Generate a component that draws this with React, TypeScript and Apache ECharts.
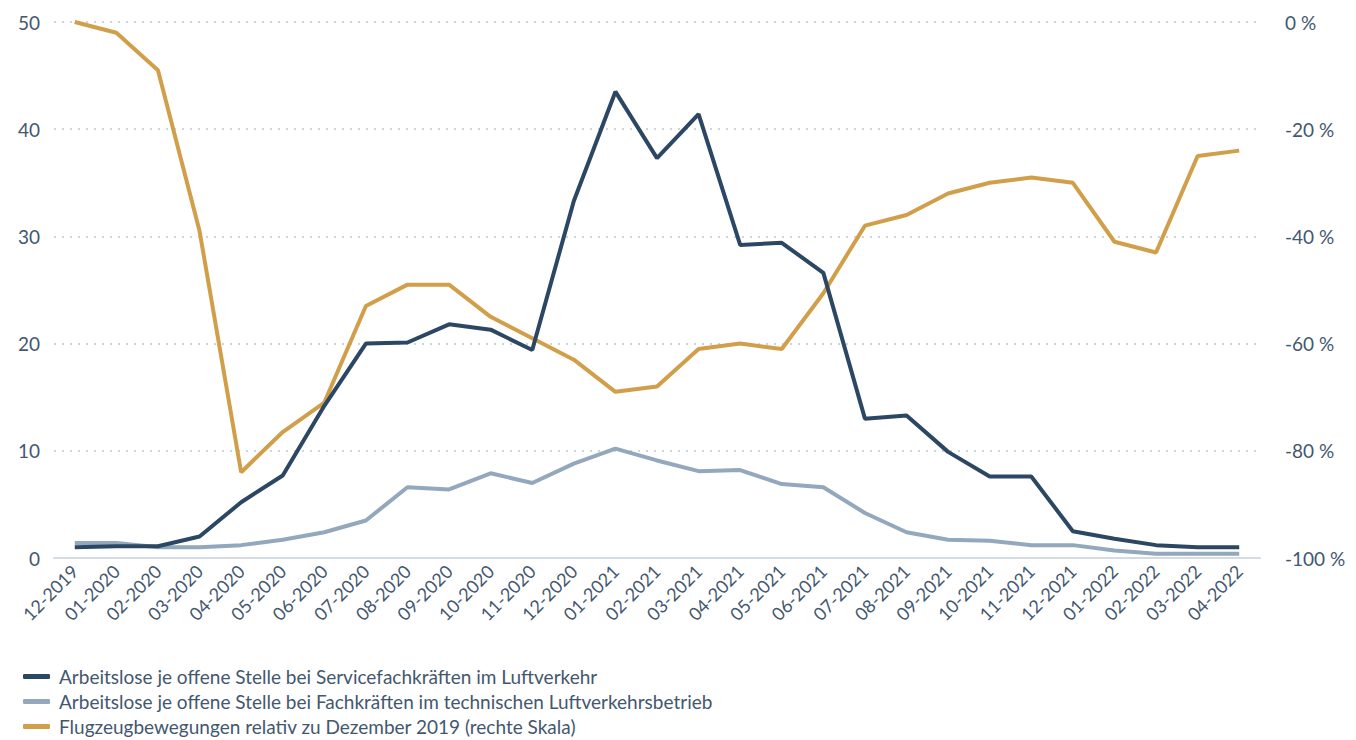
import React, { useEffect, useRef } from "react";
import * as echarts from "echarts";

const categories = [
  "12-2019", "01-2020", "02-2020", "03-2020", "04-2020", "05-2020", "06-2020", "07-2020",
  "08-2020", "09-2020", "10-2020", "11-2020", "12-2020", "01-2021", "02-2021", "03-2021",
  "04-2021", "05-2021", "06-2021", "07-2021", "08-2021", "09-2021", "10-2021", "11-2021",
  "12-2021", "01-2022", "02-2022", "03-2022", "04-2022",
];

const serviceValues = [
  1.0, 1.1, 1.1, 2.0, 5.2, 7.7, 14.2, 20.0, 20.1, 21.8, 21.3, 19.4, 33.3, 43.5, 37.3, 41.4,
  29.2, 29.4, 26.6, 13.0, 13.3, 9.9, 7.6, 7.6, 2.5, 1.8, 1.2, 1.0, 1.0,
];

const technicalValues = [
  1.4, 1.4, 1.0, 1.0, 1.2, 1.7, 2.4, 3.5, 6.6, 6.4, 7.9, 7.0, 8.8, 10.2, 9.1, 8.1,
  8.2, 6.9, 6.6, 4.2, 2.4, 1.7, 1.6, 1.2, 1.2, 0.7, 0.4, 0.4, 0.4,
];

const flightValues = [
  0, -2, -9, -39, -84, -76.5, -71, -53, -49, -49, -55, -59, -63, -69, -68, -61,
  -60, -61, -50.6, -38, -36, -32, -30, -29, -30, -41, -43, -25, -24,
];

const seriesNames = [
  "Arbeitslose je offene Stelle bei Servicefachkräften im Luftverkehr",
  "Arbeitslose je offene Stelle bei Fachkräften im technischen Luftverkehrsbetrieb",
  "Flugzeugbewegungen relativ zu Dezember 2019 (rechte Skala)",
];

const colors = ["#2c4763", "#93a7bd", "#d19f4a"];
const textColor = "#43576f";
const fontFamily = "Lato, 'Noto Sans', sans-serif";

export default function App() {
  const ref = useRef<HTMLDivElement>(null);

  useEffect(() => {
    document.body.style.margin = "0";
    if (!ref.current) return;
    const chart = echarts.init(ref.current, undefined, { renderer: "svg" });
    chart.setOption({
      animation: false,
      color: colors,
      textStyle: { fontFamily },
      grid: { left: 54, right: 96, top: 22, bottom: 182, containLabel: false },
      legend: {
        orient: "vertical",
        left: 23,
        top: 667,
        padding: 0,
        itemWidth: 27,
        itemHeight: 5,
        itemGap: 6,
        icon: "roundRect",
        textStyle: { color: textColor, fontSize: 19, fontFamily, padding: [0, 0, 0, 4] },
        data: seriesNames,
      },
      xAxis: {
        type: "category",
        data: categories,
        boundaryGap: true,
        axisLine: { show: true, lineStyle: { color: "#d3dbe3", width: 2 } },
        axisTick: { show: false },
        axisLabel: {
          rotate: 45,
          color: textColor,
          fontSize: 18,
          margin: 10,
          interval: 0,
          fontFamily,
        },
      },
      yAxis: [
        {
          type: "value",
          min: 0,
          max: 50,
          interval: 10,
          axisLine: { show: false },
          axisTick: { show: false },
          axisLabel: { color: textColor, fontSize: 19, margin: 14, fontFamily },
          splitLine: { show: true, lineStyle: { color: "#c9d5e1", type: [2, 6], width: 2 } },
        },
        {
          type: "value",
          min: -100,
          max: 0,
          interval: 20,
          position: "right",
          axisLine: { show: false },
          axisTick: { show: false },
          axisLabel: {
            color: textColor,
            fontSize: 19,
            margin: 25,
            fontFamily,
            formatter: (v: number) => `${v} %`,
          },
          splitLine: { show: false },
        },
      ],
      series: [
        {
          name: seriesNames[0],
          type: "line",
          data: serviceValues,
          yAxisIndex: 0,
          symbol: "none",
          lineStyle: { width: 4, color: colors[0] },
          z: 4,
        },
        {
          name: seriesNames[1],
          type: "line",
          data: technicalValues,
          yAxisIndex: 0,
          symbol: "none",
          lineStyle: { width: 4, color: colors[1] },
          z: 2,
        },
        {
          name: seriesNames[2],
          type: "line",
          data: flightValues,
          yAxisIndex: 1,
          symbol: "none",
          lineStyle: { width: 4, color: colors[2] },
          z: 3,
        },
      ],
    });
    return () => chart.dispose();
  }, []);

  return <div ref={ref} style={{ width: 1356, height: 740 }} />;
}
